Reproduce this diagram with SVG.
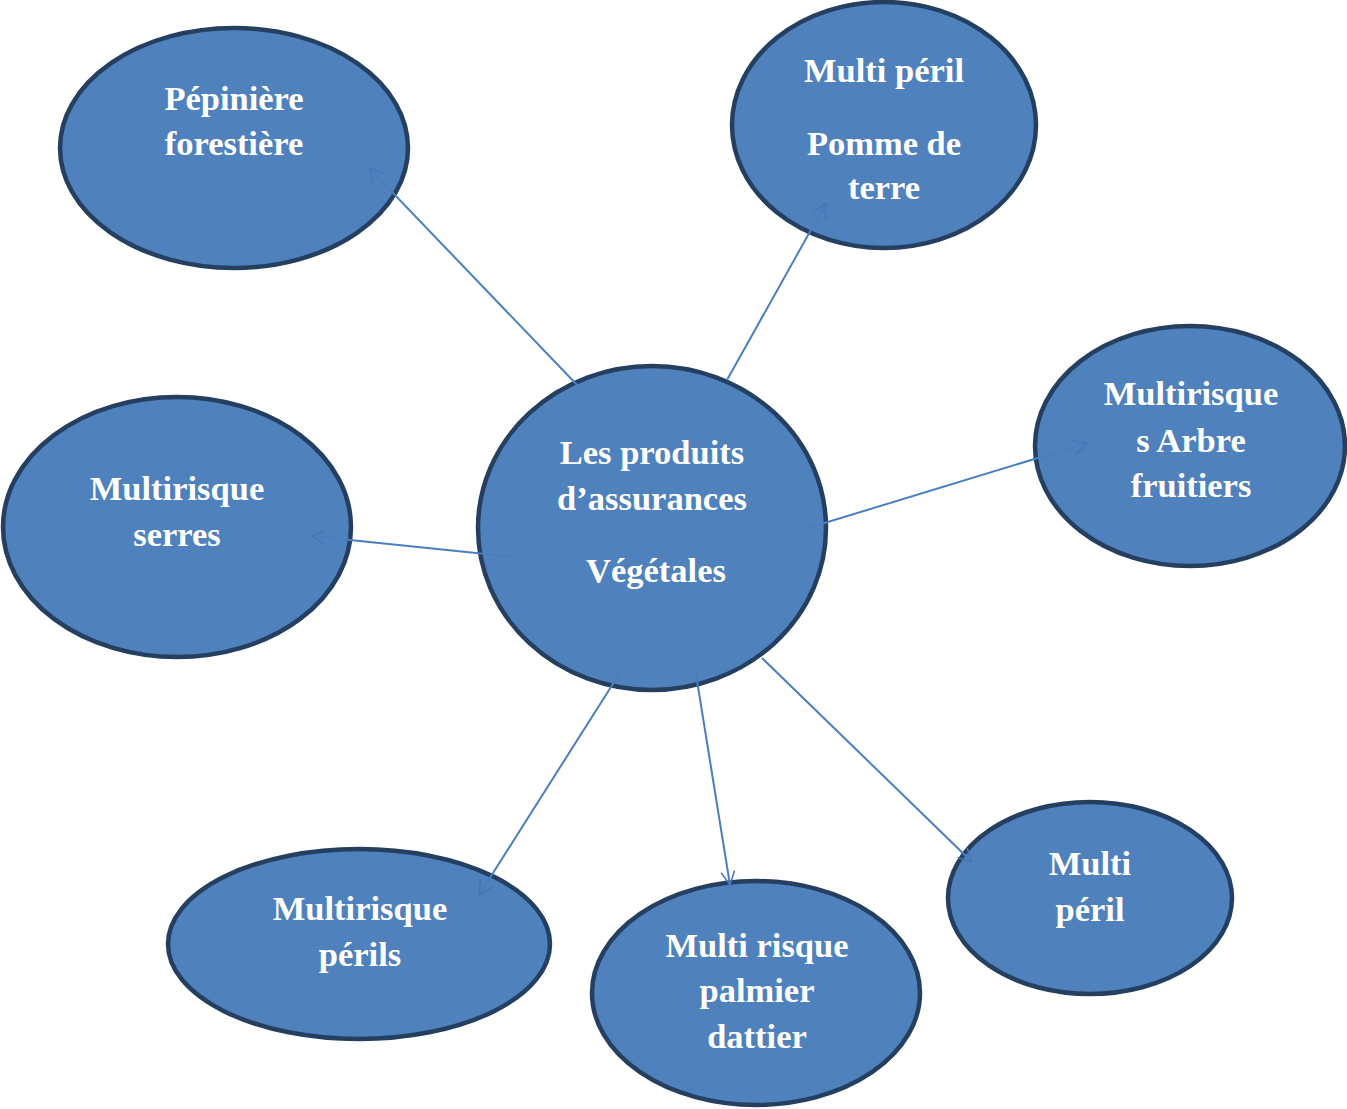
<svg xmlns="http://www.w3.org/2000/svg" width="1347" height="1109" viewBox="0 0 1347 1109">
<style>
.n{fill:#4f81bd;stroke:#243f60;stroke-width:4.5}
.t{font-family:"Liberation Serif","Times New Roman",serif;font-weight:bold;font-size:34.5px;fill:#fff;text-anchor:middle}
.c{stroke:#4a7ebf;stroke-width:2;fill:none;marker-end:url(#ah)}
</style>
<defs>
<marker id="ah" viewBox="0 0 20 20" refX="18" refY="10" markerWidth="17" markerHeight="17" markerUnits="userSpaceOnUse" orient="auto">
<path d="M2,2 L18,10 L2,18" fill="none" stroke="#4577b8" stroke-width="1.8"/>
</marker>
</defs>
<rect width="1347" height="1109" fill="#fff"/>
<g id="n-pepiniere"><ellipse class="n" cx="234" cy="148" rx="174" ry="120"/>
<text class="t" x="234" y="110">Pépinière</text><text class="t" x="234" y="155">forestière</text></g>
<g id="n-pomme"><ellipse class="n" cx="884" cy="125" rx="152" ry="123"/>
<text class="t" x="884" y="82">Multi péril</text><text class="t" x="884" y="155">Pomme de</text><text class="t" x="884" y="199">terre</text></g>
<g id="n-arbre"><ellipse class="n" cx="1190" cy="446" rx="155" ry="120"/>
<text class="t" x="1191" y="405">Multirisque</text><text class="t" x="1191" y="452">s Arbre</text><text class="t" x="1191" y="497">fruitiers</text></g>
<g id="n-serres"><ellipse class="n" cx="177" cy="527" rx="174" ry="130"/>
<text class="t" x="177" y="500">Multirisque</text><text class="t" x="177" y="546">serres</text></g>
<g id="n-center"><ellipse class="n" cx="652" cy="528" rx="174" ry="162"/>
<text class="t" x="652" y="464">Les produits</text><text class="t" x="652" y="510">d’assurances</text><text class="t" x="656" y="582">Végétales</text></g>
<g id="n-perils"><ellipse class="n" cx="359" cy="944" rx="191" ry="95"/>
<text class="t" x="360" y="920">Multirisque</text><text class="t" x="360" y="966">périls</text></g>
<g id="n-palmier"><ellipse class="n" cx="756" cy="993" rx="164" ry="112"/>
<text class="t" x="757" y="957">Multi risque</text><text class="t" x="757" y="1002">palmier</text><text class="t" x="757" y="1048">dattier</text></g>
<g id="n-multiperil"><ellipse class="n" cx="1090" cy="898" rx="142" ry="96"/>
<text class="t" x="1090" y="875">Multi</text><text class="t" x="1090" y="921">péril</text></g>
<g id="connectors">
<line class="c" x1="580" y1="388" x2="369" y2="168"/>
<line class="c" x1="727" y1="380" x2="826" y2="203"/>
<line class="c" x1="808" y1="528" x2="1087" y2="443"/>
<line class="c" x1="525" y1="558" x2="311" y2="536"/>
<line class="c" x1="623" y1="668" x2="479" y2="895"/>
<line class="c" x1="695" y1="668" x2="730" y2="885"/>
<line class="c" x1="762" y1="658" x2="972" y2="862"/>
</g>
</svg>
